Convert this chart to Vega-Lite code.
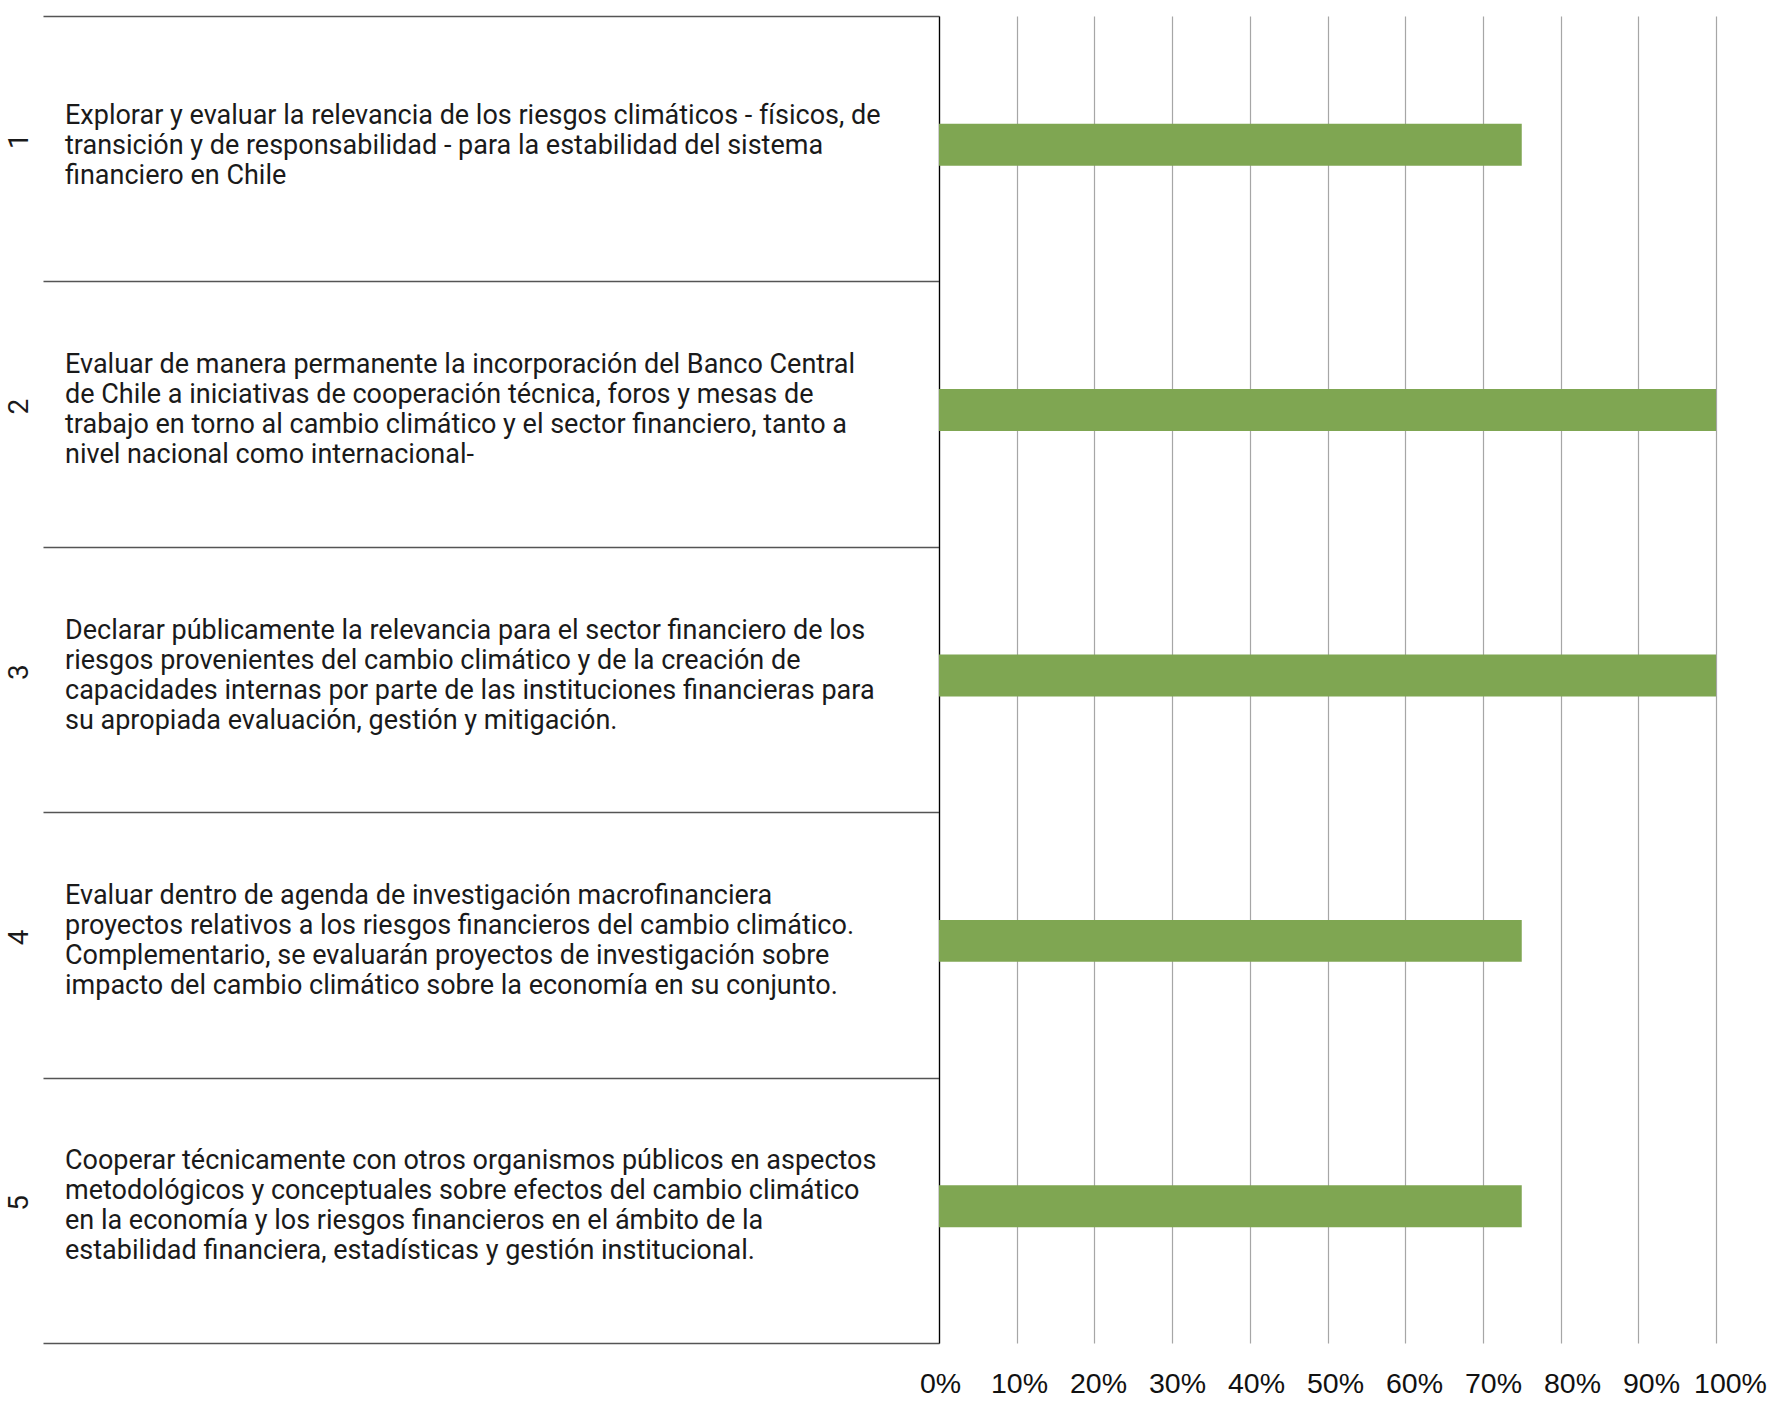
{
  "$schema": "https://vega.github.io/schema/vega-lite/v6.json",
  "padding": {"left": 5, "top": 15, "right": 5, "bottom": 5},
  "bounds": "flush",
  "background": "white",
  "config": {"view": {"stroke": null}},
  "data": {
    "values": [
      {"id": "1", "texto": "Explorar y evaluar la relevancia de los riesgos climáticos - físicos, de|transición y de responsabilidad - para la estabilidad del sistema|financiero en Chile", "valor": 0.75},
      {"id": "2", "texto": "Evaluar de manera permanente la incorporación del Banco Central|de Chile a iniciativas de cooperación técnica, foros y mesas de|trabajo en torno al cambio climático y el sector financiero, tanto a|nivel nacional como internacional-", "valor": 1.0},
      {"id": "3", "texto": "Declarar públicamente la relevancia para el sector financiero de los|riesgos provenientes del cambio climático y de la creación de|capacidades internas por parte de las instituciones financieras para|su apropiada evaluación, gestión y mitigación.", "valor": 1.0},
      {"id": "4", "texto": "Evaluar dentro de agenda de investigación macrofinanciera|proyectos relativos a los riesgos financieros del cambio climático.|Complementario, se evaluarán proyectos de investigación sobre|impacto del cambio climático sobre la economía en su conjunto.", "valor": 0.75},
      {"id": "5", "texto": "Cooperar técnicamente con otros organismos públicos en aspectos|metodológicos y conceptuales sobre efectos del cambio climático|en la economía y los riesgos financieros en el ámbito de la|estabilidad financiera, estadísticas y gestión institucional.", "valor": 0.75}
    ]
  },
  "hconcat": [
    {
      "width": 896,
      "height": 1327,
      "encoding": {
        "x": {"datum": 0, "type": "quantitative", "scale": {"domain": [0, 1]}, "axis": null},
        "y": {
          "field": "id", "type": "ordinal",
          "scale": {"type": "band", "paddingInner": 0, "paddingOuter": 0},
          "axis": {
            "title": null, "domain": false, "ticks": false, "grid": true,
            "gridColor": "#555555", "gridWidth": 1.4, "tickBand": "extent",
            "labelAngle": -90, "labelAlign": "center", "labelBaseline": "alphabetic",
            "labelPadding": 16, "labelFont": "Roboto", "labelFontSize": 28,
            "labelColor": "#1a1a1a", "labelOffset": -8
          }
        },
        "text": {"field": "texto"}
      },
      "layer": [
        {
          "transform": [{"filter": "datum.id == '1'"}],
          "mark": {"type": "text", "align": "left", "baseline": "middle", "lineBreak": "|", "lineHeight": 30, "font": "Roboto", "fontSize": 27, "color": "#1a1a1a", "dx": 22, "dy": -33}
        },
        {
          "transform": [{"filter": "datum.id != '1'"}],
          "mark": {"type": "text", "align": "left", "baseline": "middle", "lineBreak": "|", "lineHeight": 30, "font": "Roboto", "fontSize": 27, "color": "#1a1a1a", "dx": 22, "dy": -49}
        }
      ]
    },
    {
      "width": 777,
      "height": 1327,
      "mark": {"type": "bar", "color": "#7FA652"},
      "encoding": {
        "y": {
          "field": "id", "type": "ordinal",
          "scale": {"type": "band", "paddingInner": 0.842, "paddingOuter": 0.421, "align": 0.482},
          "axis": {
            "title": null, "labels": false, "ticks": false, "grid": false,
            "domain": true, "domainColor": "#000000", "domainWidth": 1.3
          }
        },
        "x": {
          "field": "valor", "type": "quantitative",
          "scale": {"domain": [0, 1], "nice": false},
          "axis": {
            "title": null, "format": ".0%",
            "values": [0, 0.1, 0.2, 0.3, 0.4, 0.5, 0.6, 0.7, 0.8, 0.9, 1.0],
            "grid": true, "gridColor": "#a6a6a6", "gridWidth": 1.2,
            "domain": false, "ticks": false, "labelPadding": 26,
            "labelFont": "Liberation Sans", "labelFontSize": 28.5,
            "labelColor": "#111111", "labelOffset": {"expr": "1 + 13 * datum.value"}, "labelFlush": false
          }
        }
      }
    }
  ],
  "spacing": 0
}
